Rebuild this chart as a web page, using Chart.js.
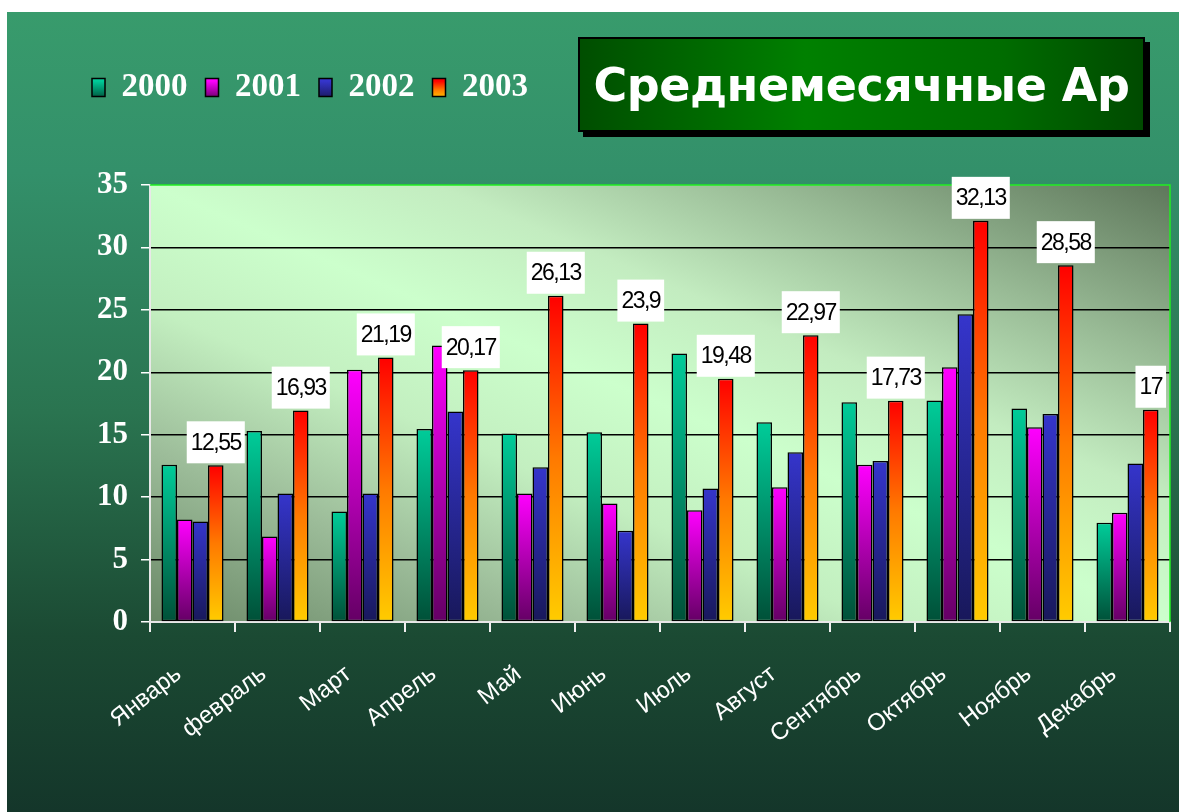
<!DOCTYPE html>
<html lang="ru">
<head>
<meta charset="utf-8">
<title>Среднемесячные</title>
<script src="https://cdn.jsdelivr.net/npm/chart.js@4.4.1/dist/chart.umd.min.js"></script>
<style>
body{margin:0;background:#fff;width:1179px;height:812px;overflow:hidden;position:relative}
#wrap{position:absolute;left:7px;top:12px;width:1172px;height:800px;background:linear-gradient(to bottom,#389b6c 0%,#33906a 20%,#2a7450 50%,#1b4a33 78%,#14362a 100%)}
#title{position:absolute;left:578px;top:37px;width:563px;height:91px;border:2px solid #000;box-shadow:5px 5px 0 #000;background:linear-gradient(to right,#004e00,#008000 40%,#006c00 75%,#004a00);color:#fff;font:bold 46px "DejaVu Sans",Verdana,sans-serif;letter-spacing:-0.5px;display:flex;align-items:center;justify-content:center;white-space:nowrap}
</style>
</head>
<body>
<div id="wrap"><canvas id="myChart" width="1172" height="800"></canvas></div>
<div id="title">Среднемесячные Ар</div>
<script>
var months = ["Январь", "февраль", "Март", "Апрель", "Май", "Июнь", "Июль", "Август", "Сентябрь", "Октябрь", "Ноябрь", "Декабрь"];
var years = ["2000", "2001", "2002", "2003"];

var v2000 = [12.6, 15.3, 8.85, 15.45, 15.1, 15.2, 21.5, 16.0, 17.6, 17.75, 17.1, 7.95];
var v2001 = [8.2, 6.85, 20.2, 22.15, 10.3, 9.5, 8.95, 10.8, 12.6, 20.4, 15.6, 8.75];
var v2002 = [8.05, 10.3, 10.3, 16.85, 12.4, 7.3, 10.7, 13.6, 12.9, 24.65, 16.65, 12.7];
var v2003 = [12.55, 16.93, 21.19, 20.17, 26.13, 23.9, 19.48, 22.97, 17.73, 32.13, 28.58, 17];

var yMin = 0, yMax = 35, yStep = 5;

// top -> bottom colours of each series
var fills = [
    [[0, "#00cc99"], [1, "#005038"]],
    [[0, "#ff00ff"], [1, "#640064"]],
    [[0, "#3535cc"], [1, "#18185a"]],
    [[0, "#ff0000"], [0.5, "#ff7a00"], [1, "#ffcc00"]]
];

function barFill(stops) {
    return function (c) {
        var chart = c.chart;
        var y = chart.scales.y;
        if (c.type !== "data" || !y || !chart.chartArea) return stops[0][1];
        var top = y.getPixelForValue(c.parsed.y);
        var base = y.getPixelForValue(0);
        var g = chart.ctx.createLinearGradient(0, top, 0, base);
        stops.forEach(function (s) { g.addColorStop(s[0], s[1]); });
        return g;
    };
}

var plotBack = {
    id: "plotBack",
    afterInit: function (chart) {
        var lg = chart.legend;
        var fit = lg.fit;
        lg.fit = function () {
            fit.call(this);
            this.height = 132;
        };
    },
    beforeDraw: function (chart) {
        var a = chart.chartArea, ctx = chart.ctx;
        var w = a.right - a.left, h = a.bottom - a.top;
        var L = Math.sqrt(w * w + h * h);
        var nx = h / L, ny = -w / L, ext = w * h / L;
        var cx = a.left + w / 2, cy = a.top + h / 2;
        var g = ctx.createLinearGradient(cx - nx * ext, cy - ny * ext, cx + nx * ext, cy + ny * ext);
        g.addColorStop(0, "#6a8867");
        g.addColorStop(0.2, "#9dbd9a");
        g.addColorStop(0.36, "#c3efc0");
        g.addColorStop(0.5, "#ccffcc");
        g.addColorStop(0.64, "#c3ecc0");
        g.addColorStop(0.8, "#98ba95");
        g.addColorStop(1, "#5e775b");
        ctx.save();
        ctx.fillStyle = g;
        ctx.fillRect(a.left, a.top, w, h);
        ctx.restore();
    },
    beforeDatasetsDraw: function (chart) {
        var a = chart.chartArea, ctx = chart.ctx;
        ctx.save();
        ctx.strokeStyle = "#22ee22";
        ctx.lineWidth = 1.5;
        ctx.beginPath();
        ctx.moveTo(a.left, a.top);
        ctx.lineTo(a.right, a.top);
        ctx.lineTo(a.right, a.bottom);
        ctx.stroke();
        ctx.restore();
    },
    afterDatasetsDraw: function (chart) {
        var ctx = chart.ctx;
        var meta = chart.getDatasetMeta(3);
        ctx.save();
        ctx.font = "23px Arial, 'Liberation Sans', sans-serif";
        ctx.letterSpacing = "-1.5px";
        ctx.textAlign = "center";
        ctx.textBaseline = "middle";
        meta.data.forEach(function (bar, i) {
            var txt = String(v2003[i]).replace(".", ",");
            var tw = ctx.measureText(txt).width;
            var bw = tw + 8, bh = 42;
            var bx = bar.x - bw / 2, by = bar.y - 2 - bh;
            ctx.fillStyle = "#fff";
            ctx.fillRect(bx, by, bw, bh);
            ctx.fillStyle = "#000";
            ctx.fillText(txt, bar.x, by + bh / 2 + 1);
        });
        ctx.restore();
    }
};

function main() {
    var ctx = document.getElementById("myChart").getContext("2d");
    var series = [v2000, v2001, v2002, v2003];
    var datasets = series.map(function (vals, i) {
        return {
            label: years[i],
            data: vals,
            backgroundColor: barFill(fills[i]),
            borderColor: "#000",
            borderWidth: 1.5,
            borderSkipped: false
        };
    });

    new Chart(ctx, {
        type: "bar",
        data: { labels: months, datasets: datasets },
        options: {
            responsive: false,
            animation: false,
            layout: { padding: { left: 67, top: 41, right: 9, bottom: 0 } },
            datasets: { bar: { categoryPercentage: 0.73, barPercentage: 1 } },
            scales: {
                x: {
                    grid: { offset: true, drawOnChartArea: false, color: "#f0f0f0", lineWidth: 2, tickLength: 10 },
                    border: { color: "#e8e8e8", width: 2 },
                    ticks: {
                        color: "#fff",
                        font: { family: "Arial, 'Liberation Sans', sans-serif", size: 24 },
                        minRotation: 38,
                        maxRotation: 38,
                        labelOffset: -14,
                        padding: 28
                    },
                    afterFit: function (s) { s.height = 190; }
                },
                y: {
                    min: yMin,
                    max: yMax,
                    ticks: {
                        stepSize: yStep,
                        color: "#fff",
                        padding: 13,
                        font: { family: "'Times New Roman', 'Liberation Serif', serif", size: 31, weight: "bold" }
                    },
                    grid: {
                        color: function (c) {
                            var v = c.tick ? c.tick.value : 0;
                            return (v === yMin || v === yMax) ? "rgba(0,0,0,0)" : "#000";
                        },
                        lineWidth: 1.5,
                        tickLength: 9,
                        tickColor: "#fff"
                    },
                    border: { color: "#e8e8e8", width: 2 },
                    afterFit: function (s) { s.width = 76; }
                }
            },
            plugins: {
                tooltip: { enabled: false },
                legend: {
                    position: "top",
                    align: "start",
                    labels: {
                        boxWidth: 13,
                        boxHeight: 18,
                        padding: 18,
                        color: "#fff",
                        font: { family: "'Times New Roman', 'Liberation Serif', serif", size: 33, weight: "bold" },
                        generateLabels: function (chart) {
                            return chart.data.datasets.map(function (ds, i) {
                                var g = chart.ctx.createLinearGradient(0, 69, 0, 87);
                                fills[i].forEach(function (s) { g.addColorStop(s[0], s[1]); });
                                return {
                                    text: ds.label,
                                    fillStyle: g,
                                    strokeStyle: "#000",
                                    lineWidth: 1.5,
                                    fontColor: "#fff",
                                    datasetIndex: i,
                                    hidden: false
                                };
                            });
                        }
                    }
                }
            }
        },
        plugins: [plotBack]
    });
}

window.onload = main;
</script>
</body>
</html>
